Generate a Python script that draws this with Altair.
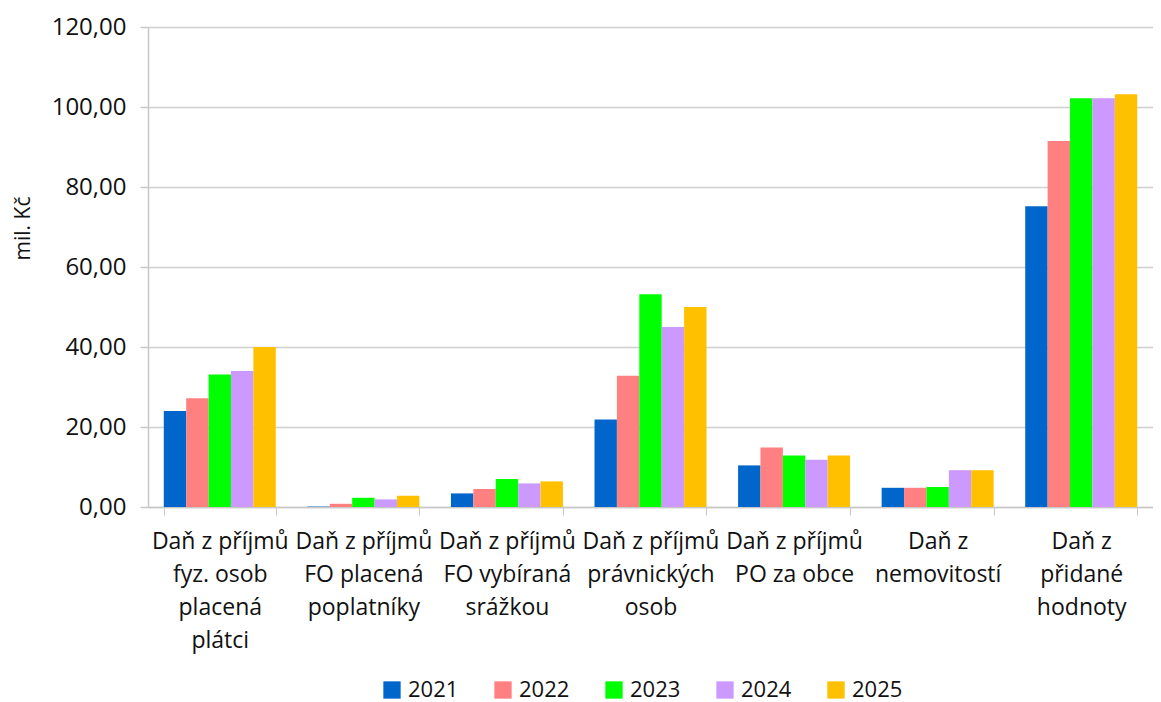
import altair as alt
import pandas as pd

categories = [
    "Daň z příjmů|fyz. osob|placená|plátci",
    "Daň z příjmů|FO placená|poplatníky",
    "Daň z příjmů|FO vybíraná|srážkou",
    "Daň z příjmů|právnických|osob",
    "Daň z příjmů|PO za obce",
    "Daň z|nemovitostí",
    "Daň z|přidané|hodnoty",
]
years = ["2021", "2022", "2023", "2024", "2025"]
v2021 = [24.0, 0.1, 3.4, 21.9, 10.4, 4.8, 75.2]
v2022 = [27.2, 0.8, 4.5, 32.8, 14.9, 4.8, 91.5]
v2023 = [33.1, 2.3, 7.0, 53.2, 12.9, 5.0, 102.2]
v2024 = [34.0, 1.9, 5.9, 45.0, 11.8, 9.2, 102.2]
v2025 = [40.0, 2.8, 6.4, 50.0, 12.9, 9.2, 103.2]
colors = ["#0066CC", "#FF8080", "#00FF00", "#CC99FF", "#FFC000"]

rows = []
for y, vals in zip(years, [v2021, v2022, v2023, v2024, v2025]):
    for c, v in zip(categories, vals):
        rows.append({"cat": c, "year": y, "value": v})
df = pd.DataFrame(rows)

FONT = "Open Sans"

chart = alt.Chart(df).mark_bar().encode(
    x=alt.X("cat:N", sort=categories, title=None,
            scale=alt.Scale(paddingInner=0.22, paddingOuter=0.11),
            axis=alt.Axis(labelExpr="split(datum.label, '|')", labelAngle=0,
                          labelFontSize=23, labelLineHeight=33, labelColor="#111",
                          labelFont=FONT, labelPadding=15,
                          tickBand="extent", tickSize=8, tickColor="#c8c8c8",
                          domainColor="#c8c8c8", domainWidth=1.5, grid=False)),
    xOffset=alt.XOffset("year:N", sort=years),
    y=alt.Y("value:Q", title="mil. Kč",
            scale=alt.Scale(domain=[0, 120]),
            axis=alt.Axis(values=[0, 20, 40, 60, 80, 100, 120],
                          labelExpr="replace(format(datum.value, '.2f'), '.', ',')",
                          labelFontSize=24, labelColor="#111", labelFont=FONT,
                          labelPadding=14, ticks=True, tickSize=8,
                          tickColor="#c8c8c8", tickWidth=1.5,
                          titleFontSize=21, titleFont=FONT, titleFontWeight="normal",
                          titleColor="#111", titlePadding=18, titleY=201,
                          domainColor="#c8c8c8", domainWidth=1.5,
                          gridColor="#d0d0d0", gridWidth=1.5)),
    color=alt.Color("year:N", sort=years, title=None,
                    scale=alt.Scale(domain=years, range=colors),
                    legend=alt.Legend(orient="none", legendX=233, legendY=652,
                                      direction="horizontal", columns=5,
                                      symbolType="square", symbolSize=300,
                                      symbolStrokeWidth=0, symbolOpacity=1,
                                      labelFontSize=22, labelFont=FONT,
                                      labelColor="#111", columnPadding=33,
                                      labelOffset=5)),
).properties(
    width=1005, height=480,
    autosize=alt.AutoSizeParams(type="none"),
    padding={"left": 140, "top": 19, "right": 0, "bottom": 198},
).configure_view(stroke=None)

chart.save("out.html", embed_options={"renderer": "svg", "actions": False})
